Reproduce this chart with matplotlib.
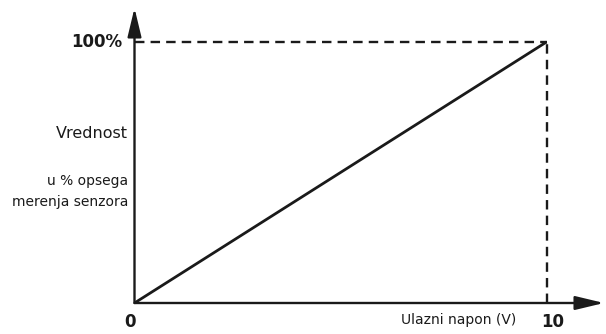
import matplotlib
matplotlib.use("Agg")
import matplotlib.pyplot as plt

# data
x_vals = [0, 10]
y_vals = [0, 100]
x_max = 10
y_max = 100
x_ticks = ["0", "10"]
y_tick = "100%"
y_label_lines = ["Vrednost", "u % opsega", "merenja senzora"]
x_label = "Ulazni napon (V)"

W, H = 606, 334
fig = plt.figure(figsize=(W / 100, H / 100), dpi=100)
ax = fig.add_axes([0, 0, 1, 1])
ox, oy = 134.5, 303
px_x = (546.5 - ox) / x_max
px_y = (oy - 42) / y_max
ax.set_xlim(-ox / px_x, (W - ox) / px_x)
ax.set_ylim(-(H - oy) / px_y, oy / px_y)
ax.axis("off")

def dx(p):
    return (p - ox) / px_x

def dy(p):
    return (oy - p) / px_y

fam = ["DejaVu Sans"]
col = "#1a1a1a"

# axes arrows
arrow = dict(arrowstyle="-|>,head_length=1.75,head_width=0.42", lw=1.7, color=col,
             shrinkA=0, shrinkB=0)
ax.annotate("", xy=(0, dy(8)), xytext=(0, 0), arrowprops=arrow)
ax.annotate("", xy=(dx(604), 0), xytext=(0, 0), arrowprops=arrow)

# dashed guides
ax.plot([0, x_max], [y_max, y_max], ls=(0, (4, 2.6)), lw=1.7, color=col)
ax.plot([x_max, x_max], [0, y_max], ls=(0, (4, 2.6)), lw=1.7, color=col)

# main line
ax.plot(x_vals, y_vals, lw=2.0, color=col, solid_capstyle="butt")

# texts
ax.text(dx(122), y_max, y_tick, ha="right", va="center", fontsize=12, fontweight="bold", family=fam, color=col)
ax.text(dx(130), dy(322), x_ticks[0], ha="center", va="center", fontsize=12, fontweight="bold", family=fam, color=col)
ax.text(dx(553), dy(322), x_ticks[1], ha="center", va="center", fontsize=12, fontweight="bold", family=fam, color=col)
ax.text(dx(516), dy(320), x_label, ha="right", va="center", fontsize=10, family=fam, color=col)
ax.text(dx(128), dy(133), y_label_lines[0], ha="right", va="center", fontsize=11.5, family=fam, color=col)
ax.text(dx(128), dy(181), y_label_lines[1], ha="right", va="center", fontsize=10, family=fam, color=col)
ax.text(dx(128), dy(202), y_label_lines[2], ha="right", va="center", fontsize=10, family=fam, color=col)

fig.savefig("out.png", dpi=100)
